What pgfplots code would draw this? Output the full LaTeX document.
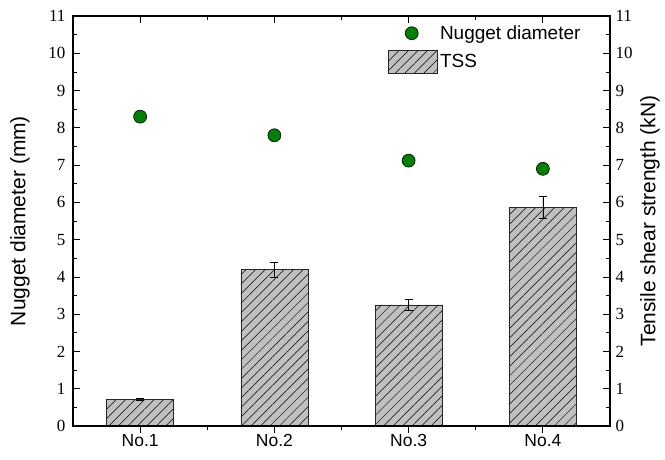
\documentclass[border=0pt]{standalone}
\usepackage{pgfplots}
\pgfplotsset{compat=1.18}
\usepackage{fontspec}
\setmainfont{Liberation Serif}
\newfontfamily\arialfont{Liberation Sans}
\newcommand\labfont{\arialfont\fontsize{21}{24}\selectfont}
\usetikzlibrary{patterns.meta}
\definecolor{barfill}{HTML}{C0C0C0}
\definecolor{dotgreen}{HTML}{008000}
\pgfplotstableread{
x y e
0 0.72 0.03
1 4.20 0.20
2 3.25 0.15
3 5.87 0.30
}\tssdata
\pgfplotstableread{
x y
0 8.30
1 7.80
2 7.12
3 6.90
}\nuggetdata
\pgfplotsset{
  dotlegend/.style={legend image code/.code={\draw[mark repeat=2,mark phase=2,##1] plot coordinates {(0pt,0pt) (23pt,0pt) (46pt,0pt)};}},
  barlegend/.style={legend image code/.code={\draw[##1] (0pt,-11.5pt) rectangle (49pt,11.5pt);}},
  common/.style={
    at={(73pt,33pt)}, anchor=south west, scale only axis,
    width=537pt, height=410pt,
    xmin=-0.5, xmax=3.5, ymin=0, ymax=11,
    xtick={0,1,2,3}, minor xtick={0.5,1.5,2.5},
    ytick={0,1,...,11}, minor ytick={0.5,1.5,...,10.5},
    tick align=inside,
    major tick length=7pt, minor tick length=4pt,
    axis line style={line width=1.1pt},
    tick style={line width=0.8pt, black},
    /pgf/number format/assume math mode=true,
    yticklabels={0,1,2,3,4,5,6,7,8,9,10,11},
    y tick label style={font=\fontsize{17}{17}\selectfont},
  },
}
\begin{document}
\begin{tikzpicture}[x=1pt,y=1pt]
\path[use as bounding box] (0,0) rectangle (665,459);
\begin{axis}[common,
  xtick pos=bottom, ytick pos=left,
  xticklabels={No.1,No.2,No.3,No.4},
  x tick label style={font=\arialfont\fontsize{17.5}{18}\selectfont, yshift=-5pt},
  major x tick style={yshift=-7pt}, minor x tick style={yshift=-4pt},
  y tick label style={xshift=-4pt},
  every axis y label/.style={at={(axis description cs:-0.0987,0.5)}, rotate=90, anchor=center, font=\labfont},
  ylabel={Nugget diameter (mm)},
  legend cell align=left,
  legend style={at={(axis description cs:0.587,0.982)}, anchor=north west,
    draw=none, fill=none, font=\arialfont\fontsize{19}{20}\selectfont,
    row sep=7pt, inner sep=0pt},
]
\addplot[only marks, mark=*, mark size=6.5pt,
  mark options={fill=dotgreen, draw=black, line width=0.6pt},
  dotlegend]
  table[x=x,y=y] {\nuggetdata};
\addlegendentry{Nugget diameter}
\addplot[ybar, bar width=0.5, draw=black!85, line width=0.6pt, fill=barfill,
  postaction={pattern={Lines[angle=45,distance=6.7pt,line width=0.5pt]}, pattern color=black},
  barlegend,
  error bars/.cd, y dir=both, y explicit,
  error bar style={line width=0.6pt, black},
  error mark options={rotate=90, mark size=4pt, line width=0.6pt, black}]
  table[x=x,y=y,y error=e] {\tssdata};
\addlegendentry{TSS}
\end{axis}
\begin{axis}[common,
  xtick pos=right, ytick pos=right, yticklabel pos=right,
  xticklabels={},
  y tick label style={xshift=2pt},
  every axis y label/.style={at={(axis description cs:1.0745,0.5)}, rotate=90, anchor=center, font=\labfont},
  ylabel={Tensile shear strength (kN)},
]
\end{axis}
\end{tikzpicture}
\end{document}
